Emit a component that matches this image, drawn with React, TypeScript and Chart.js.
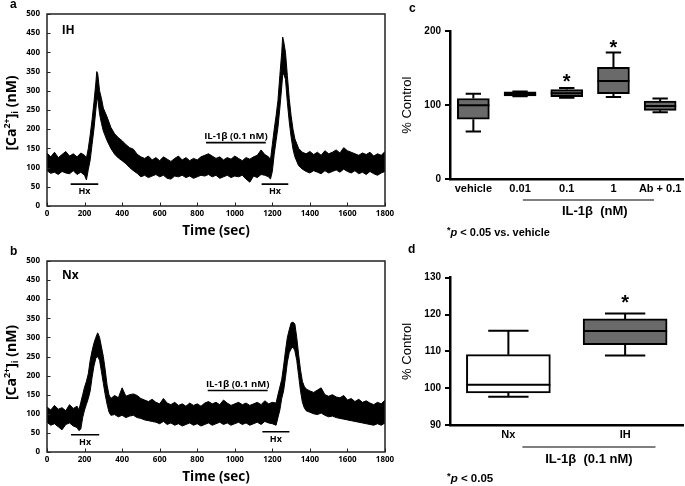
import React, { useEffect, useRef } from "react";
import { Chart, registerables } from "chart.js";

Chart.register(...registerables);

// ---------- Panel a (IH): envelope of the [Ca2+]i trace (nM) over time (sec)
const timeA = [0, 20, 40, 60, 80, 100, 120, 140, 160, 180, 200, 210, 220, 230, 240, 250, 260, 265, 270, 280, 290, 300, 320, 340, 360, 380, 400, 420, 440, 460, 480, 500, 520, 540, 560, 580, 600, 620, 640, 660, 680, 700, 720, 740, 760, 780, 800, 820, 840, 860, 880, 900, 920, 940, 960, 980, 1000, 1020, 1040, 1060, 1080, 1100, 1120, 1140, 1160, 1180, 1190, 1200, 1210, 1220, 1230, 1240, 1250, 1255, 1260, 1270, 1280, 1290, 1300, 1310, 1320, 1340, 1360, 1380, 1400, 1420, 1440, 1460, 1480, 1500, 1520, 1540, 1560, 1580, 1600, 1620, 1640, 1660, 1680, 1700, 1720, 1740, 1760, 1780, 1800];
const upperA = [138, 128, 140, 126, 134, 142, 130, 136, 128, 138, 132, 125, 150, 185, 225, 270, 320, 350, 345, 300, 280, 255, 232, 205, 188, 178, 170, 160, 152, 148, 135, 128, 124, 130, 120, 126, 118, 128, 122, 116, 124, 130, 120, 126, 118, 124, 120, 128, 132, 136, 130, 124, 128, 120, 126, 122, 130, 124, 118, 126, 122, 128, 132, 146, 134, 128, 120, 160, 200, 235, 275, 340, 400, 440, 430, 400, 340, 280, 235, 200, 175, 150, 140, 136, 142, 134, 140, 132, 144, 136, 140, 146, 138, 152, 144, 140, 136, 132, 138, 134, 140, 130, 136, 132, 142];
const lowerA = [92, 85, 88, 82, 90, 86, 84, 92, 82, 88, 80, 68, 95, 120, 160, 200, 250, 275, 280, 240, 215, 195, 170, 150, 135, 125, 118, 110, 100, 92, 85, 76, 80, 74, 78, 82, 76, 80, 72, 70, 78, 76, 80, 74, 78, 72, 76, 80, 78, 82, 76, 80, 72, 76, 80, 74, 78, 76, 80, 70, 62, 78, 74, 82, 80, 76, 70, 90, 135, 170, 205, 255, 310, 340, 345, 330, 270, 220, 180, 148, 128, 105, 96, 90, 86, 92, 88, 84, 92, 86, 90, 94, 88, 96, 90, 86, 92, 84, 88, 82, 90, 84, 80, 86, 90];

// ---------- Panel b (Nx)
const timeB = [0, 20, 40, 60, 80, 100, 120, 140, 160, 170, 180, 190, 200, 210, 220, 230, 240, 250, 260, 270, 280, 290, 300, 310, 320, 330, 340, 360, 380, 400, 420, 440, 460, 480, 500, 520, 540, 560, 580, 600, 620, 640, 660, 680, 700, 720, 740, 760, 780, 800, 820, 840, 860, 880, 900, 920, 940, 960, 980, 1000, 1020, 1040, 1060, 1080, 1100, 1120, 1140, 1160, 1180, 1200, 1220, 1230, 1240, 1250, 1260, 1270, 1280, 1290, 1300, 1310, 1320, 1330, 1340, 1350, 1360, 1370, 1380, 1400, 1420, 1440, 1460, 1480, 1500, 1520, 1540, 1560, 1580, 1600, 1620, 1640, 1660, 1680, 1700, 1720, 1740, 1760, 1780, 1800];
const upperB = [118, 110, 122, 112, 116, 108, 124, 114, 120, 110, 130, 150, 170, 185, 205, 240, 265, 285, 300, 312, 300, 275, 250, 215, 175, 150, 140, 148, 142, 168, 146, 150, 152, 148, 140, 136, 132, 138, 130, 126, 140, 128, 124, 130, 122, 126, 120, 128, 122, 126, 120, 128, 132, 126, 130, 124, 136, 128, 122, 126, 130, 124, 128, 122, 126, 130, 124, 134, 126, 130, 128, 150, 170, 190, 225, 265, 300, 320, 338, 340, 335, 300, 255, 215, 185, 172, 165, 160, 156, 162, 168, 150, 146, 150, 144, 142, 148, 136, 140, 132, 138, 130, 134, 128, 124, 130, 126, 136];
const lowerB = [78, 70, 74, 66, 58, 72, 76, 68, 64, 56, 60, 90, 110, 125, 140, 160, 195, 225, 245, 250, 240, 210, 180, 150, 125, 105, 96, 98, 92, 96, 90, 94, 96, 90, 88, 84, 82, 80, 78, 74, 80, 72, 76, 70, 74, 68, 72, 76, 70, 74, 68, 72, 76, 70, 74, 78, 72, 76, 70, 74, 78, 72, 76, 70, 74, 78, 72, 80, 76, 74, 70, 90, 110, 140, 160, 195, 235, 260, 270, 275, 265, 240, 200, 160, 130, 116, 108, 104, 100, 98, 102, 96, 92, 94, 90, 88, 86, 84, 82, 80, 78, 76, 74, 72, 70, 74, 70, 76];

// ---------- Annotations of panels a and b (data units)
const hxStartA = [126, 1143];
const hxEndA = [273, 1285];
const hxLevelA = [57, 57];
const hxTextLevelA = [37, 37];
const ilSpanA = [847, 1165];
const ilLevelA = 165;
const ilTextLevelA = 181;
const tagA = "IH";
const tagPosA = [78, 457];

const hxStartB = [128, 1147];
const hxEndB = [278, 1291];
const hxLevelB = [45, 53];
const hxTextLevelB = [26, 34];
const ilSpanB = [856, 1175];
const ilLevelB = 161;
const ilTextLevelB = 177;
const tagB = "Nx";
const tagPosB = [80, 461];

// ---------- Panel c: box plots, % Control
const catsC = ["vehicle", "0.01", "0.1", "1", "Ab + 0.1"];
const minC = [64.5, 112, 110, 111, 90.5];
const q1C = [81, 112.5, 111.5, 115.5, 93];
const medC = [100, 115, 116, 132.5, 99];
const q3C = [109, 118, 121, 151, 105.5];
const maxC = [115.5, 118.5, 123, 171, 109];
const starC = [null, null, 136, 183, null];

// ---------- Panel d
const catsD = ["Nx", "IH"];
const minD = [97.7, 108.9];
const q1D = [98.7, 111.8];
const medD = [100.9, 115.5];
const q3D = [109.1, 118.8];
const maxD = [115.6, 120.3];
const starD = [null, 124.2];

const OS = "'Open Sans', 'DejaVu Sans', sans-serif";
const AR = "'Liberation Sans', Arial, sans-serif";

type TraceSpec = {
  time: number[]; upper: number[]; lower: number[];
  hxStart: number[]; hxEnd: number[]; hxLevel: number[]; hxTextLevel: number[];
  ilSpan: number[]; ilLevel: number; ilTextLevel: number;
  tag: string; tagPos: number[];
  padTop: number; xHeight: number; yTitleShift: number;
};

function makeTrace(s: TraceSpec) {
  const annot = {
    id: "annot",
    afterDatasetsDraw(chart: any) {
      const { ctx, chartArea: ca, scales: { x, y } } = chart;
      ctx.save();
      ctx.strokeStyle = "#222";
      ctx.lineWidth = 1.5;
      ctx.strokeRect(ca.left, ca.top, ca.right - ca.left, ca.bottom - ca.top);
      ctx.lineWidth = 1;
      ctx.beginPath();
      x.ticks.forEach((t: any) => {
        const px = Math.round(x.getPixelForValue(t.value)) + 0.5;
        ctx.moveTo(px, ca.bottom);
        ctx.lineTo(px, ca.bottom - 3.5);
      });
      y.ticks.forEach((t: any) => {
        const py = Math.round(y.getPixelForValue(t.value)) + 0.5;
        ctx.moveTo(ca.left, py);
        ctx.lineTo(ca.left + 3.5, py);
      });
      ctx.stroke();

      ctx.strokeStyle = "#000";
      ctx.lineWidth = 1.6;
      ctx.beginPath();
      s.hxStart.forEach((st, i) => {
        const py = y.getPixelForValue(s.hxLevel[i]);
        ctx.moveTo(x.getPixelForValue(st), py);
        ctx.lineTo(x.getPixelForValue(s.hxEnd[i]), py);
      });
      const iy = y.getPixelForValue(s.ilLevel);
      ctx.moveTo(x.getPixelForValue(s.ilSpan[0]), iy);
      ctx.lineTo(x.getPixelForValue(s.ilSpan[1]), iy);
      ctx.stroke();

      ctx.fillStyle = "#000";
      ctx.textAlign = "center";
      ctx.textBaseline = "middle";
      ctx.font = `bold 9px ${OS}`;
      s.hxStart.forEach((st, i) => {
        ctx.fillText("Hx", x.getPixelForValue((st + s.hxEnd[i]) / 2), y.getPixelForValue(s.hxTextLevel[i]));
      });
      ctx.font = `bold 9.5px ${OS}`;
      ctx.fillText("IL-1\u03b2 (0.1 nM)", x.getPixelForValue((s.ilSpan[0] + s.ilSpan[1]) / 2), y.getPixelForValue(s.ilTextLevel));
      ctx.textAlign = "left";
      ctx.font = `bold 12px ${OS}`;
      ctx.fillText(s.tag, x.getPixelForValue(s.tagPos[0]), y.getPixelForValue(s.tagPos[1]));

      // y-axis title with super/subscript
      const parts: [string, number][] = [["[Ca", 0], ["2+", -1], ["]", 0], ["i", 1], [" (nM)", 0]];
      const big = `bold 14px ${OS}`;
      const small = `bold 9px ${OS}`;
      let total = 0;
      const widths = parts.map(([t, k]) => {
        ctx.font = k === 0 ? big : small;
        const w = ctx.measureText(t).width;
        total += w;
        return w;
      });
      ctx.translate(12, (ca.top + ca.bottom) / 2 + s.yTitleShift);
      ctx.rotate(-Math.PI / 2);
      let cx = -total / 2;
      parts.forEach(([t, k], i) => {
        ctx.font = k === 0 ? big : small;
        ctx.fillText(t, cx, k === 0 ? 0 : k < 0 ? -5 : 3);
        cx += widths[i];
      });
      ctx.restore();
    },
  };

  return {
    type: "line",
    data: {
      datasets: [
        {
          data: s.time.map((t, i) => ({ x: t, y: s.upper[i] })),
          borderColor: "#000", borderWidth: 1, pointRadius: 0, fill: false, tension: 0,
        },
        {
          data: s.time.map((t, i) => ({ x: t, y: s.lower[i] })),
          borderColor: "#000", borderWidth: 1, pointRadius: 0, fill: "-1", backgroundColor: "#000", tension: 0,
        },
      ],
    },
    options: {
      animation: false,
      responsive: false,
      events: [],
      layout: { padding: { top: s.padTop, right: 15, left: 0, bottom: 0 } },
      plugins: { legend: { display: false }, tooltip: { enabled: false } },
      scales: {
        x: {
          type: "linear", min: 0, max: 1800,
          ticks: { stepSize: 200, color: "#000", font: { family: OS, size: 8, weight: "bold" }, padding: 3, maxRotation: 0, autoSkip: false, callback: (v: any) => String(v) },
          grid: { display: false, drawTicks: false },
          border: { display: false },
          title: { display: true, text: "Time (sec)", color: "#000", font: { family: OS, size: 13.5, weight: "bold" }, padding: { top: 0, bottom: 1 } },
          afterFit: (sc: any) => { sc.height = s.xHeight; },
        },
        y: {
          min: 0, max: 500,
          ticks: { stepSize: 50, color: "#000", font: { family: OS, size: 8, weight: "bold" }, padding: 7, callback: (v: any) => String(v) },
          grid: { display: false, drawTicks: false },
          border: { display: false },
          afterFit: (sc: any) => { sc.width = 47; },
        },
      },
    },
    plugins: [annot],
  };
}

type BoxSpec = {
  cats: string[]; mins: number[]; q1: number[]; med: number[]; q3: number[]; maxs: number[];
  stars: (number | null)[]; fills: string[];
  yMin: number; yMax: number; step: number; thickness: number;
  padTop: number; xHeight: number;
  groupFrom: number; groupTo: number; groupMid: number; groupLabel: string; lineY: number; textY: number;
};

function makeBox(s: BoxSpec) {
  const plug = {
    id: "boxes",
    afterDatasetsDraw(chart: any) {
      const { ctx, scales: { x, y } } = chart;
      ctx.save();
      ctx.strokeStyle = "#000";
      ctx.lineWidth = 2;
      const cap = s.thickness * 0.24;
      const half = s.thickness / 2;
      s.cats.forEach((_, i) => {
        const cx = x.getPixelForValue(i);
        ctx.beginPath();
        ctx.moveTo(cx, y.getPixelForValue(s.q3[i]));
        ctx.lineTo(cx, y.getPixelForValue(s.maxs[i]));
        ctx.moveTo(cx - cap, y.getPixelForValue(s.maxs[i]));
        ctx.lineTo(cx + cap, y.getPixelForValue(s.maxs[i]));
        ctx.moveTo(cx, y.getPixelForValue(s.q1[i]));
        ctx.lineTo(cx, y.getPixelForValue(s.mins[i]));
        ctx.moveTo(cx - cap, y.getPixelForValue(s.mins[i]));
        ctx.lineTo(cx + cap, y.getPixelForValue(s.mins[i]));
        ctx.moveTo(cx - half, y.getPixelForValue(s.med[i]));
        ctx.lineTo(cx + half, y.getPixelForValue(s.med[i]));
        ctx.stroke();
        const st = s.stars[i];
        if (st != null) {
          ctx.fillStyle = "#000";
          ctx.font = `bold 20px ${AR}`;
          ctx.textAlign = "center";
          ctx.textBaseline = "middle";
          ctx.fillText("*", cx, y.getPixelForValue(st) + 4.5);
        }
      });
      // group underline and label
      ctx.lineWidth = 1.2;
      ctx.beginPath();
      ctx.moveTo(x.getPixelForValue(s.groupFrom), s.lineY);
      ctx.lineTo(x.getPixelForValue(s.groupTo), s.lineY);
      ctx.stroke();
      ctx.fillStyle = "#000";
      ctx.font = `bold 13px ${AR}`;
      ctx.textAlign = "center";
      ctx.textBaseline = "middle";
      ctx.fillText(s.groupLabel, x.getPixelForValue(s.groupMid), s.textY);
      ctx.restore();
    },
  };
  return {
    type: "bar",
    data: {
      labels: s.cats,
      datasets: [
        {
          data: s.q1.map((v, i) => [v, s.q3[i]]),
          backgroundColor: s.fills,
          borderColor: "#000",
          borderWidth: 2,
          borderSkipped: false,
          barThickness: s.thickness,
        },
      ],
    },
    options: {
      animation: false,
      responsive: false,
      events: [],
      layout: { padding: { top: s.padTop, right: 1.5, left: 0, bottom: 0 } },
      plugins: { legend: { display: false }, tooltip: { enabled: false } },
      scales: {
        x: {
          type: "category",
          offset: true,
          ticks: { color: "#000", font: { family: AR, size: 11, weight: "bold" }, padding: 3, maxRotation: 0, autoSkip: false },
          grid: { display: false, drawTicks: false },
          border: { display: true, color: "#000", width: 2.5 },
          afterFit: (sc: any) => { sc.height = s.xHeight; },
        },
        y: {
          min: s.yMin, max: s.yMax,
          ticks: { stepSize: s.step, color: "#000", font: { family: AR, size: 10, weight: "bold" }, padding: 4 },
          grid: { display: true, drawOnChartArea: false, drawTicks: true, tickLength: 5, color: "#000", lineWidth: 2 },
          border: { display: true, color: "#000", width: 2.5 },
          title: { display: true, text: "% Control", color: "#000", font: { family: AR, size: 13 }, padding: { top: 0, bottom: 0 } },
          afterFit: (sc: any) => { sc.width = 50; },
        },
      },
    },
    plugins: [plug],
  };
}

function ChartBox({ make, left, top, width, height }: { make: () => any; left: number; top: number; width: number; height: number }) {
  const ref = useRef<HTMLCanvasElement>(null);
  useEffect(() => {
    const chart = new Chart(ref.current as HTMLCanvasElement, make());
    return () => chart.destroy();
  }, []);
  return (
    <canvas
      ref={ref}
      width={width}
      height={height}
      style={{ position: "absolute", left, top, width, height }}
    />
  );
}

function Txt({ x, base, size, children, weight = "bold", family = AR }: any) {
  return (
    <div
      style={{
        position: "absolute",
        left: x,
        top: base - 0.85 * size,
        fontFamily: family,
        fontSize: size,
        fontWeight: weight,
        lineHeight: 1,
        whiteSpace: "nowrap",
        color: "#000",
      }}
    >
      {children}
    </div>
  );
}

export default function App() {
  return (
    <div style={{ position: "fixed", left: 0, top: 0, width: 685, height: 486, background: "#fff", overflow: "hidden" }}>
      <ChartBox
        left={0} top={0} width={400} height={240}
        make={() => makeTrace({
          time: timeA, upper: upperA, lower: lowerA,
          hxStart: hxStartA, hxEnd: hxEndA, hxLevel: hxLevelA, hxTextLevel: hxTextLevelA,
          ilSpan: ilSpanA, ilLevel: ilLevelA, ilTextLevel: ilTextLevelA,
          tag: tagA, tagPos: tagPosA, padTop: 14, xHeight: 34, yTitleShift: 3,
        })}
      />
      <ChartBox
        left={0} top={240} width={400} height={246}
        make={() => makeTrace({
          time: timeB, upper: upperB, lower: lowerB,
          hxStart: hxStartB, hxEnd: hxEndB, hxLevel: hxLevelB, hxTextLevel: hxTextLevelB,
          ilSpan: ilSpanB, ilLevel: ilLevelB, ilTextLevel: ilTextLevelB,
          tag: tagB, tagPos: tagPosB, padTop: 21, xHeight: 34, yTitleShift: 6,
        })}
      />
      <ChartBox
        left={400} top={0} width={285} height={245}
        make={() => makeBox({
          cats: catsC, mins: minC, q1: q1C, med: medC, q3: q3C, maxs: maxC, stars: starC,
          fills: catsC.map(() => "#6a6a6a"),
          yMin: 0, yMax: 200, step: 100, thickness: 32, padTop: 31, xHeight: 65.7,
          groupFrom: 1.06, groupTo: 3.87, groupMid: 2.6, groupLabel: "IL-1\u03b2  (nM)", lineY: 200, textY: 211,
        })}
      />
      <ChartBox
        left={400} top={245} width={285} height={241}
        make={() => makeBox({
          cats: catsD, mins: minD, q1: q1D, med: medD, q3: q3D, maxs: maxD, stars: starD,
          fills: ["#ffffff", "#6a6a6a"],
          yMin: 90, yMax: 130, step: 10, thickness: 84, padTop: 32.7, xHeight: 61,
          groupFrom: 0.12, groupTo: 1.26, groupMid: 0.69, groupLabel: "IL-1\u03b2  (0.1 nM)", lineY: 202, textY: 214,
        })}
      />
      <Txt x={10} base={8.5} size={12}>a</Txt>
      <Txt x={10} base={255} size={12}>b</Txt>
      <Txt x={409} base={11.7} size={12}>c</Txt>
      <Txt x={408} base={253.3} size={12}>d</Txt>
      <Txt x={447} base={236.7} size={11}>
        <span style={{ position: "relative", top: -3, fontSize: 9 }}>*</span>
        <i>p</i> &lt; 0.05 vs. vehicle
      </Txt>
      <Txt x={447} base={483} size={11.5}>
        <span style={{ position: "relative", top: -3, fontSize: 9.5 }}>*</span>
        <i>p</i> &lt; 0.05
      </Txt>
    </div>
  );
}
